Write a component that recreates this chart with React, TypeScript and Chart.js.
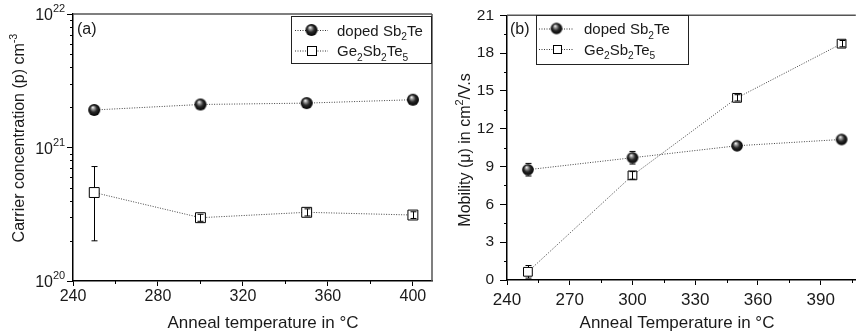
import React, { useEffect, useRef } from 'react';
import { Chart, registerables } from 'chart.js';
Chart.register(...registerables);

// ---------- data ----------
const temperatures = [250, 300, 350, 400];
const dopedCarrier = [1.91e21, 2.1e21, 2.15e21, 2.28e21];
const dopedCarrierErr = [0.06e21, 0.06e21, 0.06e21, 0.06e21];
const gstCarrier = [4.6e20, 2.98e20, 3.27e20, 3.12e20];
const gstCarrierErr = [2.6e20, 0.18e20, 0.2e20, 0.18e20];
const dopedMobility = [8.75, 9.7, 10.65, 11.15];
const dopedMobilityErr = [0.5, 0.5, 0.35, 0.2];
const gstMobility = [0.65, 8.3, 14.45, 18.75];
const gstMobilityErr = [0.5, 0.3, 0.25, 0.25];

const seriesNames = ['doped Sb_{2}Te', 'Ge_{2}Sb_{2}Te_{5}'];

const carrierTicksX = [240, 280, 320, 360, 400];
const carrierMinorX = [260, 300, 340, 380];
const carrierTicksY = [1e20, 1e21, 1e22];
const carrierMinorY = [2e20, 3e20, 4e20, 5e20, 6e20, 7e20, 8e20, 9e20, 2e21, 3e21, 4e21, 5e21, 6e21, 7e21, 8e21, 9e21];
const mobilityTicksX = [240, 270, 300, 330, 360, 390];
const mobilityMinorX = [255, 285, 315, 345, 375, 405];
const mobilityTicksY = [0, 3, 6, 9, 12, 15, 18, 21];
const mobilityMinorY = [1.5, 4.5, 7.5, 10.5, 13.5, 16.5, 19.5];

const FONT = "'Liberation Sans', Arial, Helvetica, sans-serif";

// ---------- helpers ----------
function makeSphere(r: number): HTMLCanvasElement {
  const c = document.createElement('canvas');
  const s = Math.ceil(r * 2 + 2);
  c.width = s; c.height = s;
  const g = c.getContext('2d')!;
  const cx = s / 2, cy = s / 2;
  const grad = g.createRadialGradient(cx - r * 0.25, cy - r * 0.45, 0.3, cx, cy, r);
  grad.addColorStop(0, '#f4f4f4');
  grad.addColorStop(0.22, '#9a9a9a');
  grad.addColorStop(0.55, '#2a2a2a');
  grad.addColorStop(1, '#000');
  g.fillStyle = grad;
  g.beginPath(); g.arc(cx, cy, r, 0, Math.PI * 2); g.fill();
  return c;
}

type Part = { t: string; kind: 'n' | 'sub' | 'sup' };
function parseRich(text: string): Part[] {
  const out: Part[] = [];
  const re = /([_^])\{([^}]*)\}/g;
  let last = 0; let m: RegExpExecArray | null;
  while ((m = re.exec(text))) {
    if (m.index > last) out.push({ t: text.slice(last, m.index), kind: 'n' });
    out.push({ t: m[2], kind: m[1] === '_' ? 'sub' : 'sup' });
    last = re.lastIndex;
  }
  if (last < text.length) out.push({ t: text.slice(last), kind: 'n' });
  return out;
}
function richWidth(ctx: CanvasRenderingContext2D, text: string, size: number) {
  let w = 0;
  for (const p of parseRich(text)) {
    ctx.font = `${p.kind === 'n' ? size : size * 0.68}px ${FONT}`;
    w += ctx.measureText(p.t).width;
  }
  return w;
}
function drawRich(ctx: CanvasRenderingContext2D, text: string, x: number, y: number, size: number, align: 'left' | 'center' = 'left') {
  let cx = align === 'center' ? x - richWidth(ctx, text, size) / 2 : x;
  ctx.textAlign = 'left';
  ctx.textBaseline = 'alphabetic';
  for (const p of parseRich(text)) {
    const s = p.kind === 'n' ? size : size * 0.68;
    ctx.font = `${s}px ${FONT}`;
    const dy = p.kind === 'sub' ? size * 0.32 : p.kind === 'sup' ? -size * 0.45 : 0;
    ctx.fillText(p.t, cx, y + dy);
    cx += ctx.measureText(p.t).width;
  }
}

type PanelCfg = {
  rightBorder: boolean;
  minorX: number[];
  minorY: number[];
  minorLen: number;
  errors: { data: number[]; err: number[]; half: number; inside: boolean }[];
  legend: { x: number; y: number; w: number; h: number; rows: number[]; lineX0: number; lineX1: number; textX: number; markers: any[] };
  panelLabel: { t: string; x: number; y: number };
  xTitle: { t: string; x: number; y: number };
  yTitle: { t: string; x: number; y: number };
  logLabels?: number[];
};

function decorPlugin(cfg: PanelCfg) {
  return {
    id: 'decor',
    afterDatasetsDraw(chart: any) {
      const ctx: CanvasRenderingContext2D = chart.ctx;
      const xs = chart.scales.x, ys = chart.scales.y;
      ctx.save();
      ctx.strokeStyle = '#000';
      ctx.lineWidth = 1;
      for (const e of cfg.errors) {
        e.data.forEach((v, i) => {
          const px = Math.round(xs.getPixelForValue(temperatures[i])) + 0.5;
          const yc = ys.getPixelForValue(v);
          const yh = ys.getPixelForValue(v + e.err[i]);
          const yl = ys.getPixelForValue(v - e.err[i]);
          const outside = yh < yc - e.half || yl > yc + e.half;
          if (!outside && !e.inside) return;
          ctx.beginPath();
          if (yh < yc - e.half) { ctx.moveTo(px, yh); ctx.lineTo(px, yc - e.half); }
          if (yl > yc + e.half) { ctx.moveTo(px, yc + e.half); ctx.lineTo(px, yl); }
          if (!outside) { ctx.moveTo(px, yh); ctx.lineTo(px, yl); }
          ctx.moveTo(px - 3, yh); ctx.lineTo(px + 3, yh);
          ctx.moveTo(px - 3, yl); ctx.lineTo(px + 3, yl);
          ctx.stroke();
        });
      }
      ctx.restore();
    },
    afterDraw(chart: any) {
      const ctx: CanvasRenderingContext2D = chart.ctx;
      const { left, right, top, bottom } = chart.chartArea;
      const xs = chart.scales.x, ys = chart.scales.y;
      ctx.save();
      // frame top/right
      ctx.strokeStyle = '#555';
      ctx.lineWidth = 1.5;
      ctx.beginPath();
      ctx.moveTo(left, top); ctx.lineTo(right, top);
      if (cfg.rightBorder) { ctx.moveTo(right, top); ctx.lineTo(right, bottom); }
      ctx.stroke();
      // minor ticks
      ctx.strokeStyle = '#000';
      ctx.lineWidth = 1;
      ctx.beginPath();
      for (const v of cfg.minorX) {
        const px = Math.round(xs.getPixelForValue(v)) + 0.5;
        if (px > right + 1) continue;
        ctx.moveTo(px, bottom); ctx.lineTo(px, bottom + cfg.minorLen);
      }
      for (const v of cfg.minorY) {
        const py = Math.round(ys.getPixelForValue(v)) + 0.5;
        ctx.moveTo(left - cfg.minorLen, py); ctx.lineTo(left, py);
      }
      ctx.stroke();
      ctx.fillStyle = '#1a1a1a';
      // log labels
      if (cfg.logLabels) {
        for (const v of cfg.logLabels) {
          const py = ys.getPixelForValue(v);
          const ex = String(Math.round(Math.log10(v)));
          ctx.font = `16px ${FONT}`;
          ctx.textAlign = 'right'; ctx.textBaseline = 'alphabetic';
          const baseRight = left - 20;
          ctx.fillText('10', baseRight, py + 6);
          ctx.font = `11px ${FONT}`;
          ctx.textAlign = 'left';
          ctx.fillText(ex, baseRight, py - 2);
        }
      }
      // legend box
      const L = cfg.legend;
      ctx.strokeStyle = '#222';
      ctx.lineWidth = 1;
      ctx.strokeRect(L.x + 0.5, L.y + 0.5, L.w, L.h);
      L.rows.forEach((ry, i) => {
        ctx.save();
        ctx.strokeStyle = '#333';
        ctx.setLineDash([1, 1.5]);
        ctx.beginPath(); ctx.moveTo(L.lineX0, ry + 0.5); ctx.lineTo(L.lineX1, ry + 0.5); ctx.stroke();
        ctx.restore();
        const mx = (L.lineX0 + L.lineX1) / 2;
        const mk = L.markers[i];
        if (mk.sphere) {
          const img = mk.sphere as HTMLCanvasElement;
          ctx.drawImage(img, mx - img.width / 2, ry - img.height / 2);
        } else {
          ctx.fillStyle = '#fff';
          ctx.fillRect(mx - mk.side / 2, ry - mk.side / 2, mk.side, mk.side);
          ctx.strokeStyle = '#000';
          ctx.strokeRect(Math.round(mx - mk.side / 2) + 0.5, Math.round(ry - mk.side / 2) + 0.5, mk.side, mk.side);
        }
        ctx.fillStyle = '#1a1a1a';
        drawRich(ctx, seriesNames[i], L.textX, ry + 5.5, 15);
      });
      // panel label
      ctx.fillStyle = '#1a1a1a';
      drawRich(ctx, cfg.panelLabel.t, cfg.panelLabel.x, cfg.panelLabel.y, 16);
      // x title
      drawRich(ctx, cfg.xTitle.t, cfg.xTitle.x, cfg.xTitle.y, 17, 'center');
      // y title
      ctx.save();
      ctx.translate(cfg.yTitle.x, cfg.yTitle.y);
      ctx.rotate(-Math.PI / 2);
      drawRich(ctx, cfg.yTitle.t, 0, 0, 16, 'center');
      ctx.restore();
      ctx.restore();
    },
  };
}

function ChartPanel(props: { width: number; left: number; build: (c: HTMLCanvasElement) => Chart }) {
  const ref = useRef<HTMLCanvasElement>(null);
  useEffect(() => {
    const ch = props.build(ref.current!);
    return () => ch.destroy();
  }, []);
  return (
    <canvas
      ref={ref}
      width={props.width}
      height={335}
      style={{ position: 'absolute', left: props.left, top: 0, width: props.width, height: 335, display: 'block' }}
    />
  );
}

const tickFont = (size: number) => ({ family: FONT, size });

function buildCarrier(canvas: HTMLCanvasElement) {
  const sphere = makeSphere(6);
  return new Chart(canvas, {
    type: 'scatter',
    data: {
      datasets: [
        {
          label: seriesNames[0],
          data: temperatures.map((t, i) => ({ x: t, y: dopedCarrier[i] })),
          showLine: true,
          borderColor: '#444',
          borderWidth: 1,
          borderDash: [1, 1.5],
          pointStyle: sphere as any,
          pointRadius: 6,
        },
        {
          label: seriesNames[1],
          data: temperatures.map((t, i) => ({ x: t, y: gstCarrier[i] })),
          showLine: true,
          borderColor: '#444',
          borderWidth: 1,
          borderDash: [1, 1.5],
          pointStyle: 'rect',
          pointRadius: 7,
          pointBackgroundColor: '#fff',
          pointBorderColor: '#000',
          pointBorderWidth: 1,
        },
      ],
    },
    options: {
      animation: false,
      responsive: false,
      maintainAspectRatio: false,
      layout: { padding: { left: 0, top: 14, right: 8, bottom: 0 } },
      plugins: { legend: { display: false }, tooltip: { enabled: false } },
      scales: {
        x: {
          type: 'linear', min: 240, max: 409,
          afterBuildTicks: (s: any) => { s.ticks = carrierTicksX.map((v) => ({ value: v })); },
          afterFit: (s: any) => { s.height = 54; },
          ticks: { font: tickFont(16), color: '#1a1a1a', padding: 1, maxRotation: 0, autoSkip: false },
          grid: { drawOnChartArea: false, tickLength: 5, color: '#000', tickWidth: 1 },
          border: { color: '#000', width: 1.5 },
        },
        y: {
          type: 'logarithmic', min: 1e20, max: 1e22,
          afterBuildTicks: (s: any) => { s.ticks = carrierTicksY.map((v) => ({ value: v })); },
          afterFit: (s: any) => { s.width = 73; },
          ticks: { callback: () => '', font: tickFont(16) },
          grid: { drawOnChartArea: false, tickLength: 6, color: '#000', tickWidth: 1 },
          border: { color: '#000', width: 1.5 },
        },
      },
    } as any,
    plugins: [
      decorPlugin({
        rightBorder: true,
        minorX: carrierMinorX,
        minorY: carrierMinorY,
        minorLen: 3,
        errors: [
          { data: dopedCarrier, err: dopedCarrierErr, half: 6, inside: false },
          { data: gstCarrier, err: gstCarrierErr, half: 5, inside: true },
        ],
        legend: { x: 291, y: 16, w: 140, h: 47, rows: [30, 50.5], lineX0: 295, lineX1: 328, textX: 337, markers: [{ sphere }, { side: 9 }] },
        panelLabel: { t: '(a)', x: 77, y: 34 },
        xTitle: { t: 'Anneal temperature in °C', x: 263, y: 328 },
        yTitle: { t: 'Carrier concentration (p) cm^{-3}', x: 24, y: 138 },
        logLabels: carrierTicksY,
      }) as any,
    ],
  });
}

function buildMobility(canvas: HTMLCanvasElement) {
  const sphere = makeSphere(5.8);
  return new Chart(canvas, {
    type: 'scatter',
    data: {
      datasets: [
        {
          label: seriesNames[0],
          data: temperatures.map((t, i) => ({ x: t, y: dopedMobility[i] })),
          showLine: true,
          borderColor: '#444',
          borderWidth: 1,
          borderDash: [1, 1.5],
          pointStyle: sphere as any,
          pointRadius: 6,
        },
        {
          label: seriesNames[1],
          data: temperatures.map((t, i) => ({ x: t, y: gstMobility[i] })),
          showLine: true,
          borderColor: '#444',
          borderWidth: 1,
          borderDash: [1, 1.5],
          pointStyle: 'rect',
          pointRadius: 6.2,
          pointBackgroundColor: '#fff',
          pointBorderColor: '#000',
          pointBorderWidth: 1,
        },
      ],
    },
    options: {
      animation: false,
      responsive: false,
      maintainAspectRatio: false,
      layout: { padding: { left: 0, top: 15, right: 0, bottom: 0 } },
      plugins: { legend: { display: false }, tooltip: { enabled: false } },
      scales: {
        x: {
          type: 'linear', min: 240, max: 406.8,
          afterBuildTicks: (s: any) => { s.ticks = mobilityTicksX.map((v) => ({ value: v })); },
          afterFit: (s: any) => { s.height = 55; },
          ticks: { font: tickFont(17), color: '#1a1a1a', padding: 5, maxRotation: 0, autoSkip: false },
          grid: { drawOnChartArea: false, tickLength: 5, color: '#000', tickWidth: 1 },
          border: { color: '#000', width: 1.5 },
        },
        y: {
          type: 'linear', min: 0, max: 21,
          afterBuildTicks: (s: any) => { s.ticks = mobilityTicksY.map((v) => ({ value: v })); },
          afterFit: (s: any) => { s.width = 67; },
          ticks: { font: tickFont(15.5), color: '#1a1a1a', padding: 6 },
          grid: { drawOnChartArea: false, tickLength: 7, color: '#000', tickWidth: 1 },
          border: { color: '#000', width: 1.5 },
        },
      },
    } as any,
    plugins: [
      decorPlugin({
        rightBorder: false,
        minorX: mobilityMinorX,
        minorY: mobilityMinorY,
        minorLen: 3,
        errors: [
          { data: dopedMobility, err: dopedMobilityErr, half: 6, inside: false },
          { data: gstMobility, err: gstMobilityErr, half: 4.5, inside: true },
        ],
        legend: { x: 96, y: 15, w: 152, h: 49, rows: [28.5, 49], lineX0: 99, lineX1: 134, textX: 144, markers: [{ sphere }, { side: 8 }] },
        panelLabel: { t: '(b)', x: 70, y: 34 },
        xTitle: { t: 'Anneal Temperature in °C', x: 237, y: 328 },
        yTitle: { t: 'Mobility (μ) in cm^{2}/V.s', x: 30, y: 150 },
      }) as any,
    ],
  });
}

export default function App() {
  return (
    <div style={{ position: 'absolute', left: 0, top: 0, width: 863, height: 335, background: '#fff', overflow: 'hidden' }}>
      <ChartPanel width={440} left={0} build={buildCarrier} />
      <ChartPanel width={423} left={440} build={buildMobility} />
    </div>
  );
}
